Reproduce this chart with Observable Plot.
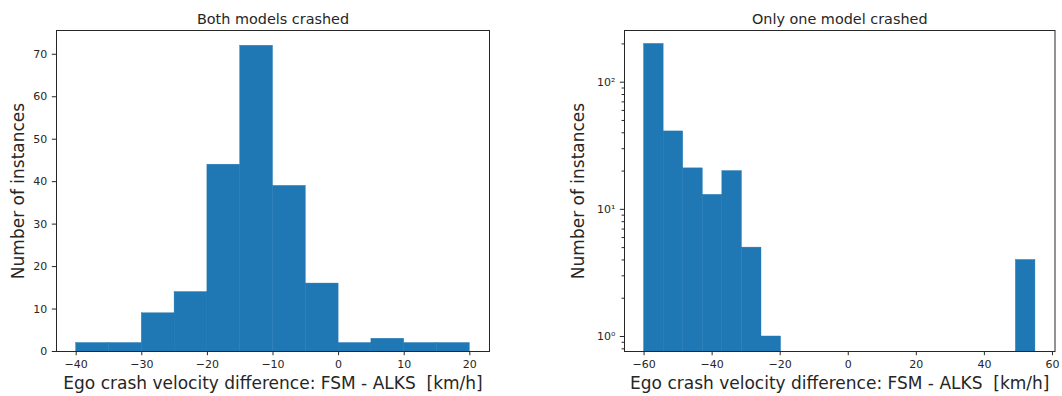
<!DOCTYPE html>
<html><head><meta charset="utf-8">
<script src="https://cdn.jsdelivr.net/npm/d3@7"></script>
<script src="https://cdn.jsdelivr.net/npm/@observablehq/plot@0.6"></script>
<style>
body{margin:0;background:#fff}
#wrap{display:flex;width:1062px;height:396px}
</style>
</head><body><div id="wrap"></div>
<script>
// ---- data ----
const leftEdges = [-40,-35,-30,-25,-20,-15,-10,-5,0,5,10,15,20];
const leftCounts = [2,2,9,14,44,72,39,16,2,3,2,2];
const rightEdges = [-60,-54.25,-48.5,-42.75,-37,-31.25,-25.5,-19.75,-14,-8.25,-2.5,3.25,9,14.75,20.5,26.25,32,37.75,43.5,49.25,55];
const rightCounts = [200,41,21,13,20,5,1,0,0,0,0,0,0,0,0,0,0,0,0,4];
const leftXTicks = [-40,-30,-20,-10,0,10,20];
const leftYTicks = [0,10,20,30,40,50,60,70];
const rightXTicks = [-60,-40,-20,0,20,40,60];
const rightYMajor = [1,10,100];
const rightYMinor = [0.8,0.9,2,3,4,5,6,7,8,9,20,30,40,50,60,70,80,90,200];
const titles = ["Both models crashed","Only one model crashed"];
const xLabel = "Ego crash velocity difference: FSM - ALKS  [km/h]";
const yLabel = "Number of instances";

const blue = "#1f77b4";
const ink = "#262626";
const font = "DejaVu Sans";
const minus = d => d < 0 ? "\u2212" + (-d) : String(d);
const sup = {"0":"\u2070","1":"\u00b9","2":"\u00b2"};
const pow10 = d => "10" + sup[String(Math.round(Math.log10(d)))];

const leftBins = leftCounts.map((n,i) => ({x1: leftEdges[i], x2: leftEdges[i+1], n}));
const rightBins = rightCounts.map((n,i) => ({x1: rightEdges[i], x2: rightEdges[i+1], n})).filter(d => d.n > 0);

function labels(title, ylOffset) {
  return [
    Plot.text([title], {frameAnchor: "top", dy: -7, lineAnchor: "bottom", textAnchor: "middle", fontSize: 14.4, fill: ink}),
    Plot.text([xLabel], {frameAnchor: "bottom", dy: 32, lineAnchor: "middle", textAnchor: "middle", fontSize: 17, fill: ink}),
    Plot.text([yLabel], {frameAnchor: "left", dx: ylOffset, rotate: -90, lineAnchor: "middle", textAnchor: "middle", fontSize: 17, fill: ink})
  ];
}

const barStyle = {fill: blue, stroke: blue, strokeWidth: 0.4, inset: 0};

const left = Plot.plot({
  width: 531, height: 396,
  marginLeft: 56, marginRight: 42, marginTop: 30, marginBottom: 45,
  style: {fontFamily: font, fontSize: "11px", color: ink, background: "#fff"},
  x: {domain: [-43, 23]},
  y: {domain: [0, 75.6]},
  marks: [
    Plot.rect(leftBins, {x1: "x1", x2: "x2", y1: 0, y2: "n", ...barStyle}),
    Plot.axisX({ticks: leftXTicks, tickSize: 4.2, tickPadding: 4, tickFormat: minus, label: null}),
    Plot.axisY({ticks: leftYTicks, tickSize: 4.2, tickPadding: 5, tickFormat: minus, label: null}),
    Plot.frame({stroke: ink, strokeWidth: 1}),
    ...labels(titles[0], -38)
  ]
});

const right = Plot.plot({
  width: 531, height: 396,
  marginLeft: 93, marginRight: 7.5, marginTop: 30, marginBottom: 45,
  style: {fontFamily: font, fontSize: "11px", color: ink, background: "#fff"},
  x: {domain: [-65.75, 60.75]},
  y: {type: "log", domain: [0.762, 255]},
  marks: [
    Plot.rect(rightBins, {x1: "x1", x2: "x2", y1: 0.762, y2: "n", ...barStyle}),
    Plot.axisX({ticks: rightXTicks, tickSize: 4.2, tickPadding: 4, tickFormat: minus, label: null}),
    Plot.axisY({ticks: rightYMajor, tickSize: 4.2, tickPadding: 5, tickFormat: pow10, label: null}),
    Plot.axisY({ticks: rightYMinor, tickSize: 2.4, tickFormat: () => "", label: null}),
    Plot.frame({stroke: ink, strokeWidth: 1}),
    ...labels(titles[1], -46)
  ]
});

document.getElementById("wrap").append(left, right);
</script>
</body></html>
